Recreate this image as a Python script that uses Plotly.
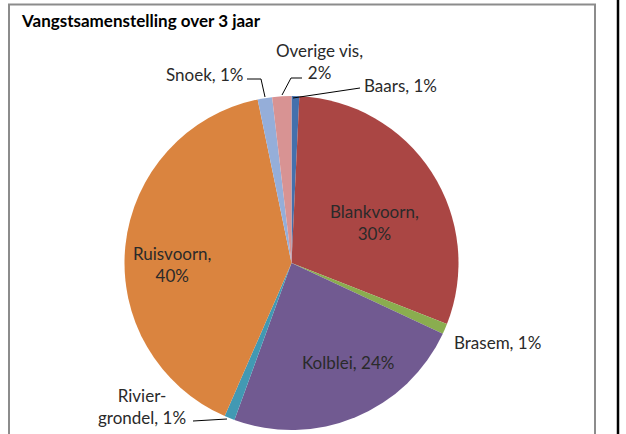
import plotly.graph_objects as go

W, H = 626, 434

categories = ["Baars", "Blankvoorn", "Brasem", "Kolblei", "Rivier-grondel",
              "Ruisvoorn", "Snoek", "Overige vis"]
values = [0.75, 30.2, 1.0, 23.6, 1.0, 40.2, 1.4, 1.85]
pct_labels = ["1%", "30%", "1%", "24%", "1%", "40%", "1%", "2%"]
colors = ["#4470AC", "#AA4644", "#8AAD4F", "#715A91", "#4299B3", "#DA843F",
          "#95AED9", "#D89393"]

# pie geometry (pixels)
cx, cy, r = 291.5, 263.0, 167.0

fig = go.Figure()
fig.add_trace(go.Pie(
    labels=categories, values=values, sort=False, direction="clockwise",
    rotation=0, marker=dict(colors=colors, line=dict(width=0)),
    textinfo="none", hoverinfo="label+percent", showlegend=False,
    domain=dict(x=[(cx - r) / W, (cx + r) / W],
                y=[(H - cy - r) / H, (H - cy + r) / H]),
))

def px(x):
    return x / W

def py(y):
    return 1 - y / H

lab_font = dict(family="Lato, Carlito, sans-serif", size=17, color="#2A2A2A")

texts = {
    "Baars": f"{categories[0]}, {pct_labels[0]}",
    "Blankvoorn": f"{categories[1]},<br>{pct_labels[1]}",
    "Brasem": f"{categories[2]}, {pct_labels[2]}",
    "Kolblei": f"{categories[3]}, {pct_labels[3]}",
    "Rivier-grondel": f"Rivier-<br>grondel, {pct_labels[4]}",
    "Ruisvoorn": f"{categories[5]},<br>{pct_labels[5]}",
    "Snoek": f"{categories[6]}, {pct_labels[6]}",
    "Overige vis": f"{categories[7]},<br>{pct_labels[7]}",
}
positions = {
    "Baars": (400, 85),
    "Blankvoorn": (375, 222),
    "Brasem": (497, 342),
    "Kolblei": (348, 362),
    "Rivier-grondel": (142, 406),
    "Ruisvoorn": (172, 264),
    "Snoek": (204, 75),
    "Overige vis": (319, 62),
}
for k, (x, y) in positions.items():
    fig.add_annotation(x=px(x), y=py(y), xref="paper", yref="paper",
                       text=texts[k], showarrow=False, font=lab_font,
                       align="center", xanchor="center", yanchor="middle")

leaders = [
    [(247, 79), (261, 79), (265, 97)],          # Snoek
    [(302, 78), (291, 78), (282, 95)],          # Overige vis
    [(293, 98), (360, 88)],                     # Baars
    [(193, 421), (227, 419)],                   # Rivier-grondel
]
shapes = []
for pts in leaders:
    path = "M " + " L ".join(f"{px(x)},{py(y)}" for x, y in pts)
    shapes.append(dict(type="path", xref="paper", yref="paper", path=path,
                       line=dict(color="#000000", width=1)))

shapes.append(dict(type="rect", xref="paper", yref="paper",
                   x0=px(9), x1=px(595), y0=py(4.5), y1=py(440),
                   line=dict(color="#8C8C8C", width=2)))
shapes.append(dict(type="line", xref="paper", yref="paper",
                   x0=px(618), x1=px(618), y0=0, y1=1,
                   line=dict(color="#000000", width=2.5)))

fig.add_annotation(x=px(19), y=py(21), xref="paper", yref="paper",
                   text="<b>Vangstsamenstelling over 3 jaar</b>", showarrow=False,
                   font=dict(family="Lato, Carlito, sans-serif", size=17, color="#000000"),
                   xanchor="left", yanchor="middle")

fig.update_layout(width=W, height=H, margin=dict(l=0, r=0, t=0, b=0),
                  paper_bgcolor="white", plot_bgcolor="white", shapes=shapes)

fig.write_html("out.html", config={"displayModeBar": False},
               post_script="document.body.style.margin='0';"
                           "document.body.style.overflow='hidden';")
